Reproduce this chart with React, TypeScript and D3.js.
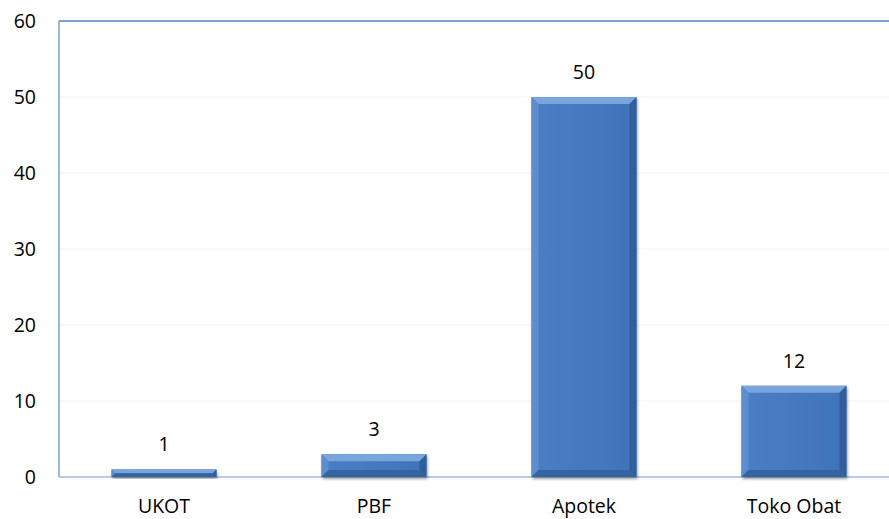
import React from "react";
import * as d3 from "d3";

const categories = ["UKOT", "PBF", "Apotek", "Toko Obat"];
const values = [1, 3, 50, 12];
const yTicks = [0, 10, 20, 30, 40, 50, 60];

const W = 889;
const H = 519;
const left = 59;
const right = 899;
const top = 21;
const bottom = 477;

export default function App() {
  const x = d3.scaleBand<string>().domain(categories).range([left, right]).paddingInner(0.5).paddingOuter(0.25);
  const y = d3.scaleLinear().domain([0, 60]).range([bottom, top]);
  const bw = x.bandwidth();
  const font = "'Open Sans', sans-serif";
  const fs = 19.5;
  return (
    <svg width={W} height={H} style={{ position: "absolute", left: 0, top: 0, background: "#fff" }}>
      <defs>
        <linearGradient id="face" x1="0" y1="0" x2="1" y2="0">
          <stop offset="0" stopColor="#4a7fc5" />
          <stop offset="1" stopColor="#3f74ba" />
        </linearGradient>
        <filter id="sh" x="-10%" y="-10%" width="130%" height="130%">
          <feGaussianBlur in="SourceAlpha" stdDeviation="1.5" />
          <feOffset dx="1" dy="1.5" />
          <feComponentTransfer><feFuncA type="linear" slope="0.4" /></feComponentTransfer>
          <feMerge><feMergeNode /><feMergeNode in="SourceGraphic" /></feMerge>
        </filter>
      </defs>
      {yTicks.filter((t) => t > 0 && t < 60).map((t) => (
        <line key={t} x1={left} x2={W} y1={y(t)} y2={y(t)} stroke="#f3f3f3" strokeWidth={1} />
      ))}
      <line x1={left} x2={W} y1={top} y2={top} stroke="#4f81bd" strokeWidth={1.5} />
      <line x1={left} x2={left} y1={top} y2={bottom} stroke="#7aa0d2" strokeWidth={1.5} />
      <line x1={left} x2={W} y1={bottom} y2={bottom} stroke="#9fbbe0" strokeWidth={1.5} />
      {yTicks.map((t) => (
        <text key={t} x={36} y={y(t)} dy="0.36em" textAnchor="end" fontFamily={font} fontSize={fs} fill="#000">
          {t}
        </text>
      ))}
      {categories.map((c, i) => {
        const x0 = x(c)!;
        const x1 = x0 + bw;
        const y0 = y(values[i]);
        const y1 = y(0);
        const h = y1 - y0;
        const b = Math.min(7, h / 2);
        return (
          <g key={c}>
            <g filter="url(#sh)">
              <rect x={x0} y={y0} width={bw} height={h} fill="url(#face)" />
            </g>
            <polygon points={`${x0},${y0} ${x1},${y0} ${x1 - b},${y0 + b} ${x0 + b},${y0 + b}`} fill="#79a4dc" />
            <polygon points={`${x0},${y0} ${x0 + b},${y0 + b} ${x0 + b},${y1 - b} ${x0},${y1}`} fill="#5b8dd0" />
            <polygon points={`${x1},${y0} ${x1},${y1} ${x1 - b},${y1 - b} ${x1 - b},${y0 + b}`} fill="#2f5e9a" />
            <polygon points={`${x0},${y1} ${x0 + b},${y1 - b} ${x1 - b},${y1 - b} ${x1},${y1}`} fill="#34649f" />
            <text x={x0 + bw / 2} y={y0 - 25} dy="0.36em" textAnchor="middle" fontFamily={font} fontSize={fs} fill="#000">
              {values[i]}
            </text>
            <text x={x0 + bw / 2} y={506} dy="0.36em" textAnchor="middle" fontFamily={font} fontSize={fs} fill="#000">
              {c}
            </text>
          </g>
        );
      })}
    </svg>
  );
}
